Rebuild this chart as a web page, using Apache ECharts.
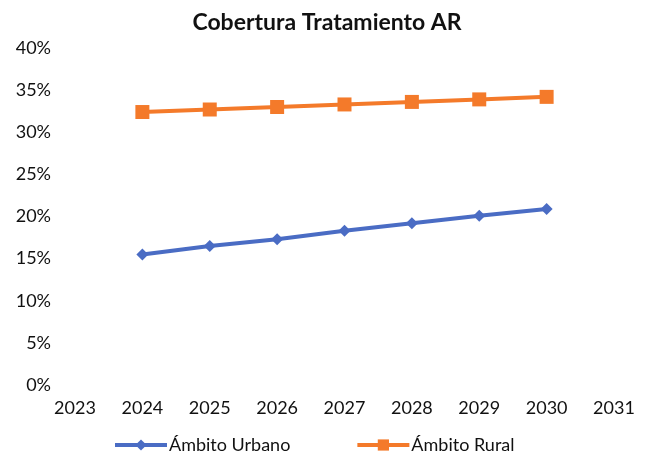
<!DOCTYPE html>
<html>
<head>
<meta charset="utf-8">
<script src="https://cdn.jsdelivr.net/npm/echarts@6/dist/echarts.min.js"></script>
<style>
  html, body { margin: 0; padding: 0; background: #fff; }
  #chart { width: 654px; height: 461px; }
</style>
</head>
<body>
<div id="chart"></div>
<script>
// años y valores (%)
const years = [2024, 2025, 2026, 2027, 2028, 2029, 2030];
const urbano = [15.5, 16.5, 17.3, 18.3, 19.2, 20.1, 20.9];
const rural = [32.4, 32.7, 33.0, 33.3, 33.6, 33.9, 34.2];
const seriesNames = ['Ámbito Urbano', 'Ámbito Rural'];

const font = 'Lato, "Open Sans", sans-serif';

const chart = echarts.init(document.getElementById('chart'));
chart.setOption({
  animation: false,
  title: {
    text: 'Cobertura Tratamiento AR',
    left: 'center',
    top: 6,
    textStyle: { fontFamily: font, fontSize: 23, fontWeight: 'bold', color: '#111' }
  },
  grid: { left: 75, right: 40, top: 48, bottom: 76 },
  legend: {
    bottom: 2,
    left: 108,
    itemGap: 65,
    itemWidth: 52,
    itemHeight: 14,
    lineStyle: { width: 4 },
    textStyle: { fontFamily: font, fontSize: 18, color: '#111', padding: [0, 0, 0, -3] },
    data: seriesNames
  },
  xAxis: {
    type: 'value',
    min: 2023,
    max: 2031,
    interval: 1,
    axisLine: { show: false },
    axisTick: { show: false },
    splitLine: { show: false },
    axisLabel: { fontFamily: font, fontSize: 18, color: '#111', margin: 14, formatter: v => String(v) }
  },
  yAxis: {
    type: 'value',
    min: 0,
    max: 40,
    interval: 5,
    axisLine: { show: false },
    axisTick: { show: false },
    splitLine: { show: false },
    axisLabel: { fontFamily: font, fontSize: 18, color: '#111', margin: 24, formatter: '{value}%' }
  },
  series: [
    {
      name: seriesNames[0],
      type: 'line',
      data: years.map((y, i) => [y, urbano[i]]),
      symbol: 'diamond',
      symbolSize: 12,
      lineStyle: { width: 4, color: '#4a6cc4' },
      itemStyle: { color: '#4a6cc4' }
    },
    {
      name: seriesNames[1],
      type: 'line',
      data: years.map((y, i) => [y, rural[i]]),
      symbol: 'rect',
      symbolSize: 14,
      lineStyle: { width: 4, color: '#f47a2a' },
      itemStyle: { color: '#f47a2a' }
    }
  ]
});
</script>
</body>
</html>
